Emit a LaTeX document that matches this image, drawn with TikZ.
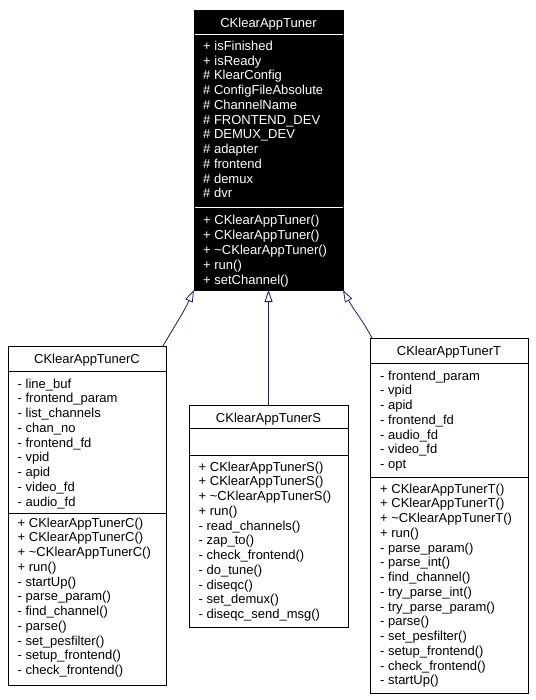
\documentclass[tikz,border=0pt]{standalone}
\usepackage{fontspec}
\setmainfont{Liberation Sans}
\usetikzlibrary{arrows.meta}
\definecolor{edgeblue}{RGB}{25,25,112}
\newcommand\umllines[5]{%
  \foreach \t [count=\i] in {#5} {\node[#4] (#1\i) at (#2, {#3+(\i-1)*14.75}) {\t};}}
\begin{document}
\begin{tikzpicture}[x=1pt,y=-1pt,
  box/.style={draw=black,line width=0.9pt,anchor=north west,inner sep=0,outer sep=0},
  txt/.style={inner sep=0,anchor=base west,font=\fontsize{13}{15}\selectfont},
  ttl/.style={inner sep=0,anchor=base,font=\fontsize{13}{15}\selectfont},
  inh/.style={draw=edgeblue,line width=0.8pt,-{Triangle[open,length=12pt,width=8pt]}},
  sep/.style={line width=0.9pt}]
\useasboundingbox (0,0) rectangle (535,700);

% base class
\node[box,fill=black,minimum width=149pt,minimum height=280pt] (base) at (194,10) {};
\draw[sep,white] (194.5,34) -- (342.5,34);
\draw[sep,white] (194.5,207) -- (342.5,207);
\node[ttl,text=white] (baseT) at (268.5,28) {CKlearAppTuner};
\umllines{baseA}{203}{50.5}{txt,text=white}{+ isFinished, + isReady, \# KlearConfig, \# ConfigFileAbsolute, \# ChannelName, \# FRONTEND\_DEV, \# DEMUX\_DEV, \# adapter, \# frontend, \# demux, \# dvr}
\umllines{baseM}{203}{225}{txt,text=white}{+ CKlearAppTuner(), + CKlearAppTuner(), + \textasciitilde CKlearAppTuner(), + run(), + setChannel()}

% C
\node[box,fill=white,minimum width=158pt,minimum height=339pt] (C) at (8,346) {};
\draw[sep] (8,371) -- (166,371);
\draw[sep] (8,513) -- (166,513);
\node[ttl] (CT) at (87,363) {CKlearAppTunerC};
\umllines{CA}{17.5}{388}{txt}{- line\_buf, - frontend\_param, - list\_channels, - chan\_no, - frontend\_fd, - vpid, - apid, - video\_fd, - audio\_fd}
\umllines{CM}{17.5}{527}{txt}{+ CKlearAppTunerC(), + CKlearAppTunerC(), + \textasciitilde CKlearAppTunerC(), + run(), - startUp(), - parse\_param(), - find\_channel(), - parse(), - set\_pesfilter(), - setup\_frontend(), - check\_frontend()}

% S
\node[box,fill=white,minimum width=159pt,minimum height=222pt] (S) at (189,405) {};
\draw[sep] (189,428) -- (348,428);
\draw[sep] (189,455) -- (348,455);
\node[ttl] (ST) at (268.5,422) {CKlearAppTunerS};
\umllines{SM}{198.5}{471}{txt}{+ CKlearAppTunerS(), + CKlearAppTunerS(), + \textasciitilde CKlearAppTunerS(), + run(), - read\_channels(), - zap\_to(), - check\_frontend(), - do\_tune(), - diseqc(), - set\_demux(), - diseqc\_send\_msg()}

% T
\node[box,fill=white,minimum width=158pt,minimum height=355pt] (T) at (370,338) {};
\draw[sep] (370,363) -- (528,363);
\draw[sep] (370,477) -- (528,477);
\node[ttl] (TT) at (449,355) {CKlearAppTunerT};
\umllines{TA}{380}{380}{txt}{- frontend\_param, - vpid, - apid, - frontend\_fd, - audio\_fd, - video\_fd, - opt}
\umllines{TM}{380}{493}{txt}{+ CKlearAppTunerT(), + CKlearAppTunerT(), + \textasciitilde CKlearAppTunerT(), + run(), - parse\_param(), - parse\_int(), - find\_channel(), - try\_parse\_int(), - try\_parse\_param(), - parse(), - set\_pesfilter(), - setup\_frontend(), - check\_frontend(), - startUp()}

% inheritance
\draw[inh] ([xshift=-3pt]C.north east) to[out=60,in=-115] (base.south west);
\draw[inh] (S.north) -- (base.south);
\draw[inh] ([xshift=2pt]T.north west) to[out=118,in=-62] (base.south east);
\end{tikzpicture}
\end{document}
